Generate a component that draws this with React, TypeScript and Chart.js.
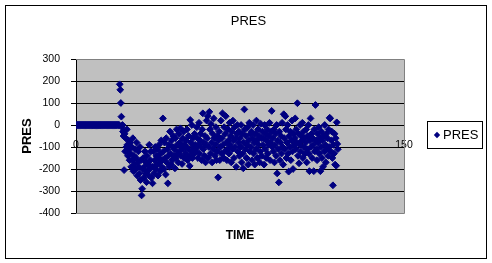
import { useEffect, useRef } from "react";
import { Chart, registerables } from "chart.js";

Chart.register(...registerables);

const CHART_TITLE = "PRES";
const SERIES_NAME = "PRES";
const X_TITLE = "TIME";
const Y_TITLE = "PRES";
const X_TICKS = [0, 50, 100, 150];
const Y_TICKS = [300, 200, 100, 0, -100, -200, -300, -400];
const X_MIN = 0;
const X_MAX = 150;
const Y_MIN = -400;
const Y_MAX = 300;
// sampling interval of TIME between successive readings
const TIME_STEP = 0.25;

// PRES readings, one every TIME_STEP starting at TIME 0
const PRES_IDLE = [
  0, 0, 0, 0, 0, 0, 0, 0, 0, 0, 0, 0, 0, 0, 0, 0, 0, 0, 0, 0,
  0, 0, 0, 0, 0, 0, 0, 0, 0, 0, 0, 0, 0, 0, 0, 0, 0, 0, 0, 0,
  0, 0, 0, 0, 0, 0, 0, 0, 0, 0, 0, 0, 0, 0, 0, 0, 0, 0, 0, 0,
  0, 0, 0, 0, 0, 0, 0, 0, 0, 0, 0, 0, 0, 0, 0, 0, 0, 0, 0, 0,
];
const PRES_ACTIVE = [
  185, 160, 100, 38, -10, 0, -30, -50, -205, -40, -120, -60, -100, -20, -90, -140, -70, -110, -160, -80,
  -130, -190, -100, -160, -60, -210, -140, -180, -110, -200, -150, -80, -230, -170, -120, -190, -220, -100, -250, -160,
  -320, -290, -200, -150, -240, -190, -120, -220, -170, -260, -140, -210, -180, -230, -90, -200, -160, -120, -240, -190,
  -265, -190, -120, -220, -160, -100, -200, -140, -180, -110, -230, -150, -90, -170, -210, -130, -70, -190, -160, 30,
  -120, -200, -80, -150, -225, -60, -170, -110, -265, -140, -90, -190, -30, -130, -180, -70, -160, -100, -50, -140,
  -110, -197, -60, -150, -20, -90, -130, -170, -40, -120, -80, -15, -140, -100, -177, -60, -110, -30, -150, -90,
  -130, -70, -100, -20, -160, -110, -50, -140, -186, 23, -80, -120, 0, -150, -60, -100, -130, -40, -90, -110,
  -120, -10, -60, -150, -90, 10, -130, -70, -40, -100, -160, -20, 53, -110, -80, -140, -50, -170, -90, 20,
  -60, 40, -150, -100, 60, -20, -130, 5, -80, -170, -40, -110, 30, -60, -140, -90, -10, -160, -120, -50,
  -238, -70, -30, -160, -100, 20, -130, -60, 53, -90, -150, -10, -120, -40, 40, -80, -160, -110, -20, -70,
  -130, 10, -90, -50, -170, -30, -110, 20, -70, -150, -10, -100, -60, -190, -40, 0, -120, -80, -30, -140,
  -60, -100, 0, -170, -40, -130, -197, -80, 71, -20, -110, -50, -150, -90, -10, -180, -70, 10, -120, -40,
  -100, -30, -160, -60, 0, -130, -80, -180, -40, -110, 20, -70, -150, -20, -90, -50, -170, -120, 5, -60,
  -140, -30, -90, -60, -180, 0, -110, -40, -150, -70, -20, -130, -90, -50, 10, -160, -80, -30, 64, -100,
  -60, -120, -20, -170, -90, -40, -140, 0, -220, -70, -110, -261, -30, -160, -80, -50, -130, 10, -100, -180,
  49, -60, -110, 40, -20, -150, -80, 0, -130, -212, -50, -100, -30, -160, -70, 20, -120, -200, -40, -90,
  -60, 30, -110, -20, -80, 99, -140, -40, -174, -90, 0, -120, -50, -70, 10, -150, -30, -100, -60, -130,
  -80, -20, -170, -110, -50, 0, -130, -210, -70, 30, -100, -40, -150, -60, -90, -210, -20, -120, 91, -70,
  -110, -160, -40, -80, -10, -130, -60, -210, -100, -30, -150, -70, -190, -50, -120, 0, -90, -170, -40, -110,
  -60, -140, -20, -100, 33, 30, -120, -70, -30, -150, -274, -90, -130, -40, -180, -60, -185, 12, -86, -110,
];

const PRES = [...PRES_IDLE, ...PRES_ACTIVE];
const TIME = PRES.map((_, i) => i * TIME_STEP);

const NAVY = "#000080";
const PLOT_BG = "#C0C0C0";
const FONT_FAMILY = "Arial, 'Liberation Sans', sans-serif";

const framePlugin = {
  id: "excelFrame",
  beforeDraw(chart: any) {
    const { ctx, chartArea: a, width, height } = chart;
    ctx.save();
    ctx.fillStyle = "#ffffff";
    ctx.fillRect(0, 0, width, height);
    ctx.fillStyle = PLOT_BG;
    ctx.fillRect(a.left, a.top, a.right - a.left, a.bottom - a.top);
    ctx.restore();
  },
  beforeDatasetsDraw(chart: any) {
    const { ctx, chartArea: a } = chart;
    ctx.save();
    ctx.strokeStyle = "#808080";
    ctx.lineWidth = 1;
    ctx.beginPath();
    ctx.moveTo(a.left, Math.round(a.top) + 0.5);
    ctx.lineTo(Math.round(a.right) + 0.5, Math.round(a.top) + 0.5);
    ctx.lineTo(Math.round(a.right) + 0.5, Math.round(a.bottom) + 0.5);
    ctx.lineTo(a.left, Math.round(a.bottom) + 0.5);
    ctx.stroke();
    ctx.restore();
  },
  afterDraw(chart: any) {
    const { ctx, width, height, chartArea: a } = chart;
    ctx.save();
    // outer chart border
    ctx.strokeStyle = "#000000";
    ctx.lineWidth = 1;
    ctx.strokeRect(5.5, 5.5, width - 11, height - 10);
    // legend box
    const lx = Math.round(a.right) + 23.5;
    const ly = Math.round((a.top + a.bottom) / 2) - 14.5;
    const lw = 55;
    const lh = 27;
    ctx.fillStyle = "#ffffff";
    ctx.fillRect(lx, ly, lw, lh);
    ctx.strokeRect(lx, ly, lw, lh);
    const cy = ly + lh / 2;
    ctx.fillStyle = NAVY;
    ctx.beginPath();
    const dx = lx + 9.5;
    const r = 3.2;
    ctx.moveTo(dx, cy - r);
    ctx.lineTo(dx + r, cy);
    ctx.lineTo(dx, cy + r);
    ctx.lineTo(dx - r, cy);
    ctx.closePath();
    ctx.fill();
    ctx.fillStyle = "#000000";
    ctx.font = `13px ${FONT_FAMILY}`;
    ctx.textAlign = "left";
    ctx.textBaseline = "middle";
    ctx.fillText(SERIES_NAME, lx + 15.5, cy + 0.5);
    ctx.restore();
  },
};

export default function App() {
  const canvasRef = useRef<HTMLCanvasElement | null>(null);

  useEffect(() => {
    const canvas = canvasRef.current;
    if (!canvas) return;
    const points = PRES.map((v, i) => ({ x: TIME[i], y: v }));
    const tickFont = { family: FONT_FAMILY, size: 10.5 };
    const chart = new Chart(canvas, {
      type: "scatter",
      data: {
        datasets: [
          {
            label: SERIES_NAME,
            data: points,
            pointStyle: "rectRot",
            pointRadius: 3.4,
            pointHoverRadius: 3.4,
            pointBackgroundColor: NAVY,
            pointBorderColor: NAVY,
            pointBorderWidth: 1,
            showLine: false,
          },
        ],
      },
      options: {
        animation: false,
        responsive: false,
        devicePixelRatio: 1,
        events: [],
        layout: { padding: { left: 5, top: 6, right: 0, bottom: 0 } },
        plugins: {
          legend: { display: false },
          tooltip: { enabled: false },
          title: {
            display: true,
            text: CHART_TITLE,
            color: "#000000",
            font: { family: FONT_FAMILY, size: 13, weight: "normal" },
            padding: { top: 8, bottom: 29.4 },
          },
          subtitle: {
            display: true,
            text: X_TITLE,
            position: "bottom",
            fullSize: false,
            color: "#000000",
            font: { family: FONT_FAMILY, size: 12, weight: "bold" },
            padding: { top: 15, bottom: 20.6 },
          },
        },
        scales: {
          x: {
            type: "linear",
            position: { y: 0 } as any,
            min: X_MIN,
            max: X_MAX,
            afterBuildTicks: (s: any) => {
              s.ticks = X_TICKS.map((v) => ({ value: v }));
            },
            afterFit: (s: any) => {
              s.paddingLeft = 0;
              s.paddingRight = 0;
            },
            grid: { drawOnChartArea: false, drawTicks: true, tickLength: 4, color: "#000000" },
            border: { display: true, color: "#000000", width: 1 },
            ticks: {
              color: "#000000",
              font: tickFont,
              padding: 10,
              maxRotation: 0,
              autoSkip: false,
            },
          },
          y: {
            type: "linear",
            position: "left",
            min: Y_MIN,
            max: Y_MAX,
            afterBuildTicks: (s: any) => {
              s.ticks = Y_TICKS.map((v) => ({ value: v }));
            },
            afterFit: (s: any) => {
              s.width = 71;
            },
            grid: {
              color: (c: any) =>
                c.tick && (c.tick.value === Y_MAX || c.tick.value === Y_MIN) ? "#808080" : "#000000",
              tickColor: "#000000",
              tickLength: 5,
              lineWidth: 1,
            },
            border: { display: true, color: "#000000", width: 1 },
            ticks: {
              color: "#000000",
              font: tickFont,
              padding: 11,
              autoSkip: false,
            },
            title: {
              display: true,
              text: Y_TITLE,
              color: "#000000",
              font: { family: FONT_FAMILY, size: 13, weight: "bold" },
              padding: { top: 15, bottom: 0 },
            },
          },
          // reserves the column on the right that holds the legend
          legendSpace: {
            type: "linear",
            position: "right",
            display: true,
            min: Y_MIN,
            max: Y_MAX,
            afterFit: (s: any) => {
              s.width = 88;
            },
            grid: { display: false },
            border: { display: false },
            ticks: { display: false },
          },
        },
      },
      plugins: [framePlugin],
    });
    return () => chart.destroy();
  }, []);

  return (
    <div style={{ position: "absolute", left: 0, top: 0, width: 492, height: 263, background: "#ffffff" }}>
      <canvas ref={canvasRef} width={492} height={263} style={{ display: "block" }} />
    </div>
  );
}
